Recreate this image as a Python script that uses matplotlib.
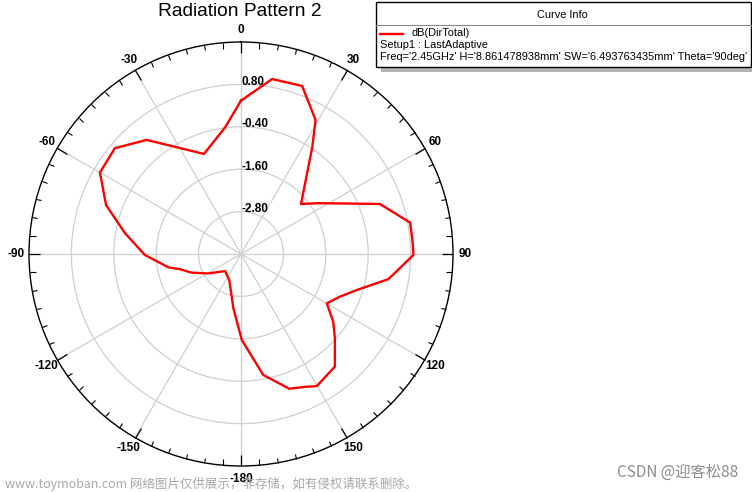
import numpy as np
import matplotlib
matplotlib.use("Agg")
import matplotlib.pyplot as plt
from matplotlib.patches import Rectangle
from matplotlib.lines import Line2D
import matplotlib.transforms as mtransforms

plt.rcParams['font.family'] = ['Liberation Sans', 'DejaVu Sans']

# ---- data (theta in degrees, clockwise from top; values in dB) ----
theta_deg = [0.0, 10.1, 20.0, 29.1, 33.6, 50.2, 56.7, 70.2, 79.5, 86.4, 90.3,
             96.5, 99.7, 107.3, 113.3, 119.9, 126.3, 131.9, 140.2, 150.2, 153.7,
             160.3, 169.6, 179.5, 188.0, 204.2, 223.0, 239.4, 249.2, 256.0, 259.6,
             269.4, 280.1, 289.9, 300.0, 310.0, 320.4, 339.7, 352.8, 360.0]
db_total = [0.34, 1.03, 1.06, 0.34, -0.35, -1.79, -1.38, 0.18, 0.87, 0.87, 0.88,
            0.42, 0.23, -0.57, -0.95, -1.20, -0.76, -0.43, 0.15, 0.31, 0.19,
            0.05, -0.52, -1.57, -2.45, -3.19, -3.34, -2.92, -2.51, -2.22, -1.91,
            -1.28, -0.67, 0.06, 0.61, 0.66, 0.19, -0.98, -0.39, 0.34]

r_min, r_max = -4.0, 2.0
ring_values = [-2.80, -1.60, -0.40, 0.80]
theta_ticks = [0, 30, 60, 90, 120, 150, 180, 210, 240, 270, 300, 330]
theta_labels = ['0', '30', '60', '90', '120', '150', '-180', '-150', '-120', '-90', '-60', '-30']

title = 'Radiation Pattern 2'
legend_title = 'Curve Info'
curve_name = 'dB(DirTotal)'
legend_lines = ["Setup1 : LastAdaptive",
                "Freq='2.45GHz' H='8.861478938mm' SW='6.493763435mm' Theta='90deg'"]

W, H = 752, 492
fig = plt.figure(figsize=(W / 100, H / 100), dpi=100)


def fx(x):
    return x / W


def fy(y):
    return 1 - y / H


ax = fig.add_axes([fx(29), fy(466), 424 / W, 424 / H], projection='polar')
ax.set_theta_zero_location('N')
ax.set_theta_direction(-1)
ax.set_rlim(r_min, r_max)
ax.set_yticks(ring_values)
ax.set_yticklabels([])
ax.set_xticks(np.deg2rad(theta_ticks))
ax.set_xticklabels(theta_labels, fontweight='bold', fontsize=8.5)
ax.set_xticks(np.deg2rad(np.arange(0, 360, 5)), minor=True)
ax.tick_params(axis='x', which='both', top=True, bottom=False)
ax.tick_params(axis='x', which='major', direction='in', length=8, width=0.9, pad=2)
ax.tick_params(axis='x', which='minor', direction='in', length=4, width=0.8)
ax.tick_params(axis='y', length=0)
ax.grid(True, color='#cfcfcf', lw=0.9)
ax.spines['polar'].set_color('black')
ax.spines['polar'].set_linewidth(1.0)

ax.plot(np.deg2rad(theta_deg), db_total, color='#ff0000', lw=1.7, zorder=5)

off = mtransforms.offset_copy(ax.transData, fig=fig, x=0, y=2.5, units='dots')
for v in ring_values:
    ax.text(0, v, f"{v:.2f}", transform=off, ha='left', va='center',
            fontsize=8.5, fontweight='bold', zorder=6)

fig.text(fx(240), fy(12), title, ha='center', va='center', fontsize=13.8)

# legend box
fig.add_artist(Rectangle((fx(381), fy(72)), (757 - 381) / W, (72 - 7) / H,
                         transform=fig.transFigure, facecolor='#b4b4b4',
                         edgecolor='none', zorder=8))
fig.add_artist(Rectangle((fx(375.5), fy(67)), (750.5 - 375.5) / W, (67 - 2) / H,
                         transform=fig.transFigure, facecolor='white',
                         edgecolor='black', lw=1.0, zorder=9))
fig.add_artist(Line2D([fx(375.5), fx(750.5)], [fy(25), fy(25)],
                      transform=fig.transFigure, color='#888888', lw=0.8, zorder=10))
fs_leg = 7.9
fig.text(fx(562), fy(15.5), legend_title, ha='center', va='center', fontsize=fs_leg, zorder=10)
fig.add_artist(Line2D([fx(380), fx(403)], [fy(33.5), fy(33.5)],
                      transform=fig.transFigure, color='#ff0000', lw=1.7, zorder=10))
fig.text(fx(412), fy(33.5), curve_name, ha='left', va='center', fontsize=fs_leg, zorder=10)
fig.text(fx(380), fy(45.5), legend_lines[0], ha='left', va='center', fontsize=fs_leg, zorder=10)
fig.text(fx(380), fy(57), legend_lines[1], ha='left', va='center', fontsize=fs_leg, zorder=10)

# watermarks
fig.text(fx(5), fy(484), 'www.toymoban.com 网络图片仅供展示，非存储，如有侵权请联系删除。',
         ha='left', va='center', fontsize=9, color='#a8a8a8',
         family=['Noto Sans CJK SC', 'DejaVu Sans'])
fig.text(fx(738), fy(472), 'CSDN @迎客松88', ha='right', va='center', fontsize=11,
         color='#8c8c8c', family=['Noto Sans CJK SC', 'DejaVu Sans'])

fig.savefig('out.png', dpi=100)
